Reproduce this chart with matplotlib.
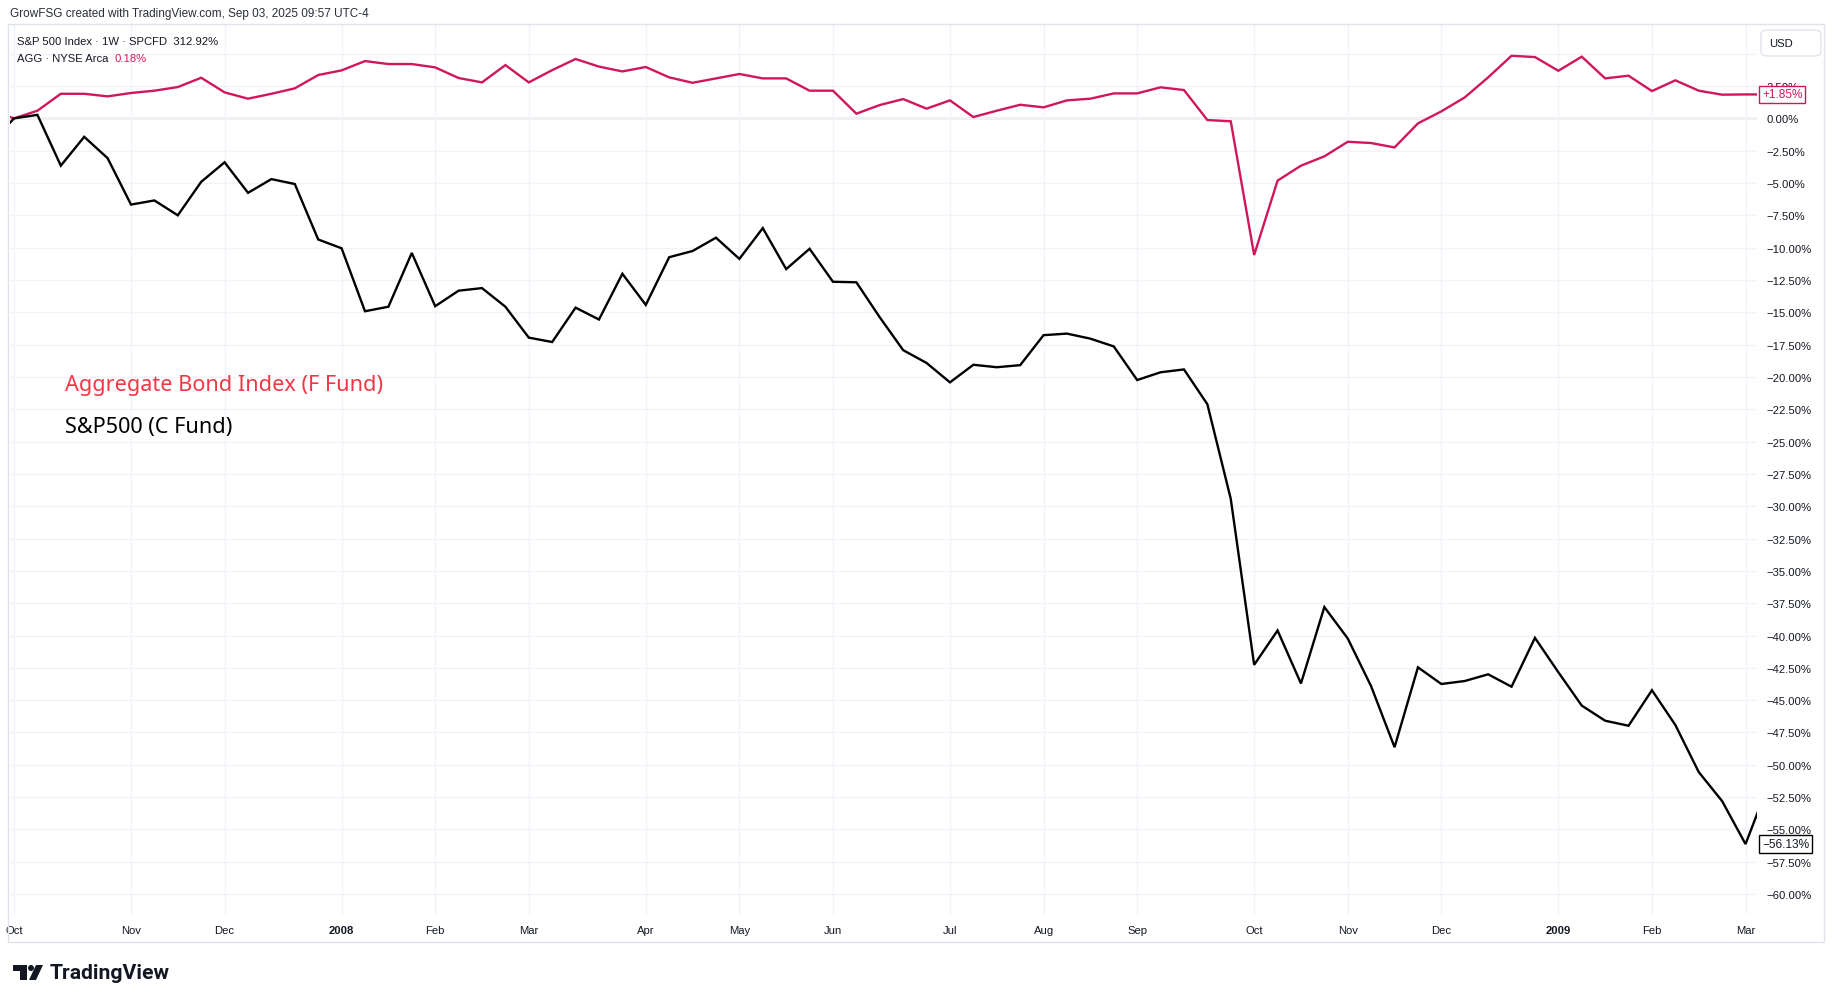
import matplotlib
matplotlib.use("Agg")
import matplotlib.pyplot as plt
import matplotlib.dates as mdates
import matplotlib.patches as mpatches
import matplotlib.transforms as mtransforms
import numpy as np
import pandas as pd

# ---------------- data (weekly bars, % change vs week of 2007-10-01) ----------------
week_start = "2007-09-24"
n_weeks = 77
spx_pct = [-1.98, 0.00, 0.27, -3.66, -1.43, -3.08, -6.67, -6.35, -7.50, -4.91,
           -3.40, -5.76, -4.70, -5.08, -9.37, -10.05, -14.92, -14.57, -10.41, -14.53,
           -13.33, -13.13, -14.57, -16.96, -17.30, -14.64, -15.56, -12.02, -14.43, -10.74,
           -10.26, -9.23, -10.87, -8.49, -11.66, -10.09, -12.64, -12.68, -15.39, -17.93,
           -18.92, -20.42, -19.06, -19.25, -19.09, -16.77, -16.65, -17.04, -17.64, -20.24,
           -19.64, -19.42, -22.11, -29.43, -42.27, -39.61, -43.71, -37.80, -40.23, -43.93,
           -48.64, -42.46, -43.75, -43.52, -43.00, -43.96, -40.18, -42.84, -45.42, -46.59,
           -46.98, -44.23, -46.92, -50.56, -52.81, -56.13, -51.43]
agg_pct = [0.60, 0.00, 0.59, 1.90, 1.90, 1.70, 1.96, 2.14, 2.42, 3.14,
           2.01, 1.52, 1.90, 2.32, 3.35, 3.71, 4.43, 4.20, 4.20, 3.94,
           3.12, 2.78, 4.12, 2.78, 3.73, 4.59, 4.00, 3.63, 3.97, 3.17,
           2.75, 3.09, 3.43, 3.09, 3.09, 2.14, 2.14, 0.36, 1.03, 1.49,
           0.75, 1.39, 0.10, 0.59, 1.05, 0.85, 1.39, 1.52, 1.93, 1.93,
           2.40, 2.19, -0.13, -0.23, -10.57, -4.82, -3.66, -2.94, -1.81, -1.91,
           -2.25, -0.39, 0.54, 1.62, 3.17, 4.84, 4.74, 3.68, 4.77, 3.09,
           3.30, 2.11, 2.94, 2.14, 1.83, 1.85, 1.85]
spx_last_label = -56.13
agg_last_label = 1.85
header = "GrowFSG created with TradingView.com, Sep 03, 2025 09:57 UTC-4"
legend1 = "S&P 500 Index · 1W · SPCFD  312.92%"
legend2 = "AGG · NYSE Arca  "
legend2_val = "0.18%"
note_bond = "Aggregate Bond Index (F Fund)"
note_spx = "S&P500 (C Fund)"

dates = pd.date_range(week_start, periods=n_weeks, freq="W-MON")

# ---------------- layout ----------------
W, H = 1835, 1004
PINK = "#d0175c"
RED = "#f23645"
TXT = "#131722"
GRID = "#f0f3fa"
SANS = ["Liberation Sans", "DejaVu Sans"]

def fx(x):
    return x / W

def fy(y):
    return 1 - y / H

fig = plt.figure(figsize=(W / 100, H / 100), dpi=100)
fig.patch.set_facecolor("white")

ax = fig.add_axes([fx(10), fy(915), (1757 - 10) / W, (915 - 26) / H])
for s in ax.spines.values():
    s.set_visible(False)

x = mdates.date2num(dates)
base = x[1]
ax.set_xlim(base - 1.2, base + 74.49 * 7)
ax.set_ylim(-61.54, 7.22)

# price scale ticks
yt = np.arange(-60, 5.01, 2.5)
ax.set_yticks(yt)
ax.yaxis.tick_right()

def yfmt(v):
    if v > 4:
        return ""
    s = f"{abs(v):.2f}%"
    return ("\u2212" + s) if v < -1e-9 else s

ax.set_yticklabels([yfmt(v) for v in yt])

# month ticks: first weekly bar of each month
vis = dates[1:]
df = pd.DataFrame({"d": vis})
firsts = df.groupby([df.d.dt.year, df.d.dt.month]).d.min().tolist()
tick_x = mdates.date2num(firsts)
tick_lbl = [str(d.year) if d.month == 1 else d.strftime("%b") for d in firsts]
ax.set_xticks(tick_x)
ax.set_xticklabels(tick_lbl)
for lbl, d in zip(ax.get_xticklabels(), firsts):
    if d.month == 1:
        lbl.set_fontweight("bold")

ax.tick_params(axis="both", length=0, colors=TXT, labelsize=8.1)
ax.tick_params(axis="y", pad=7)
ax.tick_params(axis="x", pad=8)
for lbl in ax.get_xticklabels() + ax.get_yticklabels():
    lbl.set_family(SANS)
ax.grid(True, color=GRID, lw=1, zorder=0)

ax.axhline(0, color="#a9abb5", lw=1, zorder=1)

ax.plot(x, agg_pct, color=PINK, lw=1.7, zorder=3, solid_joinstyle="miter")
ax.plot(x, spx_pct, color="black", lw=1.7, zorder=4, solid_joinstyle="miter")

# last value labels on price scale
blend = mtransforms.blended_transform_factory(ax.transAxes, ax.transData)
ax.text(1.0 + 5 / 1747, agg_last_label, f"+{agg_last_label:.2f}%", transform=blend,
        ha="left", va="center", fontsize=8.6, color=PINK, family=SANS,
        bbox=dict(boxstyle="square,pad=0.22", fc="white", ec=PINK, lw=1), clip_on=False, zorder=10)
ax.text(1.0 + 5 / 1747, spx_last_label, f"\u2212{abs(spx_last_label):.2f}%", transform=blend,
        ha="left", va="center", fontsize=8.6, color=TXT, family=SANS,
        bbox=dict(boxstyle="square,pad=0.22", fc="white", ec="black", lw=1), clip_on=False, zorder=10)

# annotations
ax.text(fx(65), fy(385), note_bond, transform=fig.transFigure, fontsize=15.6, color=RED,
        family=["Noto Sans", "DejaVu Sans"], va="center", ha="left")
ax.text(fx(65), fy(427), note_spx, transform=fig.transFigure, fontsize=15.6, color="black",
        family=["Noto Sans", "DejaVu Sans"], va="center", ha="left")

# header + legend
fig.text(fx(10), fy(14), header, fontsize=8.5, color="#2a2e39", va="center", ha="left", family=SANS)
fig.text(fx(17), fy(42), legend1, fontsize=8.1, color=TXT, va="center", ha="left", family=SANS)
fig.text(fx(17), fy(59), legend2, fontsize=8.1, color=TXT, va="center", ha="left", family=SANS)
fig.text(fx(114), fy(59), legend2_val, fontsize=8.1, color=PINK, va="center", ha="left", family=SANS)

# chart frame
fig.add_artist(mpatches.Rectangle((fx(8), fy(943)), (1824 - 8) / W, (943 - 25) / H,
                                  transform=fig.transFigure, fill=False, ec="#e0e3eb", lw=1))
# USD button
fig.add_artist(mpatches.FancyBboxPatch((fx(1761), fy(57)), (1821 - 1761) / W, (57 - 31) / H,
                                       boxstyle="round,pad=0,rounding_size=0.004",
                                       transform=fig.transFigure, fc="white", ec="#e0e3eb", lw=1))
fig.text(fx(1769), fy(44), "USD", fontsize=8.1, color=TXT, va="center", ha="left", family=SANS)

# TradingView logo
fig.add_artist(mpatches.Rectangle((fx(13), fy(972)), 14 / W, 6 / H, transform=fig.transFigure,
                                  fc="#131722", ec="none"))
fig.add_artist(mpatches.Rectangle((fx(20), fy(981)), 7 / W, 15 / H, transform=fig.transFigure,
                                  fc="#131722", ec="none"))
fig.add_artist(mpatches.Ellipse((fx(31), fy(969)), 6 / W, 6 / H, transform=fig.transFigure,
                                fc="#131722", ec="none"))
fig.add_artist(mpatches.Polygon([(fx(36), fy(966)), (fx(43), fy(966)), (fx(36), fy(981)),
                                 (fx(29), fy(981))], closed=True, transform=fig.transFigure,
                                fc="#131722", ec="none"))
fig.text(fx(50), fy(974), "TradingView", fontsize=15.2, fontweight="bold", color="#131722",
         va="center", ha="left", family=["Roboto", "DejaVu Sans"])

fig.savefig("out.png", dpi=100, facecolor="white")
